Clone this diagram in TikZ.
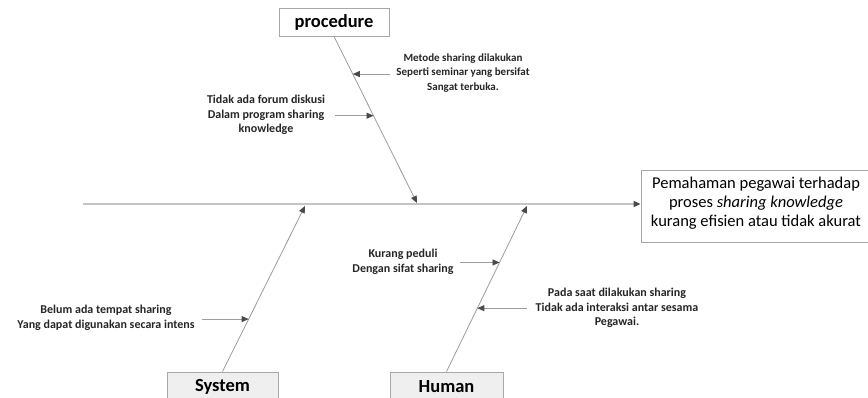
\documentclass[tikz,border=0pt]{standalone}
\usepackage{fontspec}
\setmainfont{Carlito}
\usetikzlibrary{arrows.meta,calc}
\definecolor{linegray}{HTML}{9C9C9C}
\definecolor{spinegray}{HTML}{C4C4C4}
\definecolor{tipgray}{HTML}{4A4A4A}
\definecolor{boxgray}{HTML}{EFEFEF}
\definecolor{edgegray}{HTML}{A8A8A8}
\tikzset{
  cause/.style={draw=edgegray, line width=0.8pt, inner sep=0pt, font=\fontsize{18.5}{22}\selectfont\bfseries},
  effect/.style={draw=edgegray, line width=0.8pt, fill=white, inner sep=0pt, align=center, font=\fontsize{16.5}{19}\selectfont},
  note/.style={align=center, inner sep=0pt, font=\fontsize{12}{14.5}\selectfont\bfseries, text=black!85},
  smallnote/.style={note, font=\fontsize{11}{14.8}\selectfont\bfseries},
  bone/.style={draw=linegray, line width=0.8pt, -{Triangle[length=7pt,width=6pt,fill=tipgray,color=tipgray]}},
  spine/.style={draw=spinegray, line width=1.8pt, -{Triangle[length=7pt,width=6pt,fill=tipgray,color=tipgray]}},
}
\begin{document}
\begin{tikzpicture}[x=1pt,y=-1pt]
  \useasboundingbox (0,0) rectangle (868,398);
  \clip (0,0) rectangle (868,398);
  \fill[white] (0,0) rectangle (868,398);

  % effect box and spine
  \node[effect, minimum width=231pt, minimum height=72pt] (eff) at (756.5,206) {};
  \node[effect, draw=none, fill=none] (efftext) at (756,203)
    {Pemahaman pegawai terhadap\\ proses \textit{sharing knowledge}\\ kurang efisien atau tidak akurat};
  \coordinate (tail) at (83,204);
  \draw[spine] (tail) -- (eff.west |- tail);

  % category boxes
  \node[cause, fill=white, minimum width=110pt, minimum height=28pt] (proc) at (334,22) {procedure};
  \node[cause, fill=boxgray, minimum width=111pt, minimum height=30pt] (sys) at (222.5,387) {System};
  \node[cause, fill=boxgray, minimum width=113pt, minimum height=30pt] (hum) at (446.5,387) {Human};

  % where the bones meet the spine
  \coordinate (pj) at (417,203);
  \coordinate (sj) at (305,206);
  \coordinate (hj) at (527,206);
  \draw[bone] (proc.south) -- (pj);
  \draw[bone] (sys.north) -- (sj);
  \draw[bone] (hum.north) -- (hj);

  % points on the bones where the causes arrive
  \coordinate (p1) at ($(proc.south)!0.226!(pj)$);
  \coordinate (p2) at ($(proc.south)!0.476!(pj)$);
  \coordinate (s1) at ($(sys.north)!0.317!(sj)$);
  \coordinate (h1) at ($(hum.north)!0.659!(hj)$);
  \coordinate (h2) at ($(hum.north)!0.383!(hj)$);

  % causes
  \node[smallnote] (n1) at (463,73) {Metode sharing dilakukan\\ Seperti seminar yang bersifat\\ Sangat terbuka.};
  \node[note] (n2) at (266,115) {Tidak ada forum diskusi\\ Dalam program sharing\\ knowledge};
  \node[note] (n3) at (106,318) {Belum ada tempat sharing\\ Yang dapat digunakan secara intens};
  \node[note] (n4) at (403,262) {Kurang peduli\\ Dengan sifat sharing};
  \node[note] (n5) at (617,308) {Pada saat dilakukan sharing\\ Tidak ada interaksi antar sesama\\ Pegawai.};

  \coordinate (t1) at (390,0);
  \coordinate (t2) at (335,0);
  \coordinate (t3) at (202,0);
  \coordinate (t4) at (460,0);
  \coordinate (t5) at (527,0);
  \draw[bone] (t1 |- p1) -- (p1);
  \draw[bone] (t2 |- p2) -- (p2);
  \draw[bone] (t3 |- s1) -- (s1);
  \draw[bone] (t4 |- h1) -- (h1);
  \draw[bone] (t5 |- h2) -- (h2);
\end{tikzpicture}
\end{document}
